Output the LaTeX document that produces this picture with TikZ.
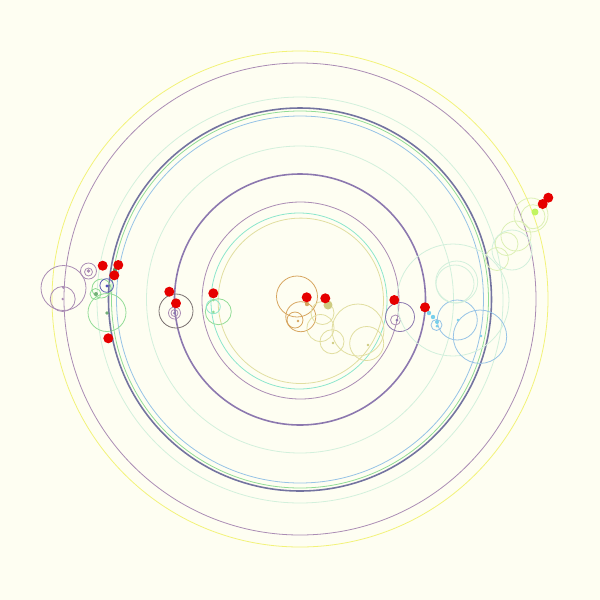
\documentclass[tikz,border=0pt]{standalone}
\usepackage{tikz}

\definecolor{bgpale}{RGB}{254,254,242}
\definecolor{orbyellow}{RGB}{242,242,120}
\definecolor{orbpurple}{RGB}{170,140,180}
\definecolor{orbviolet}{RGB}{140,120,175}
\definecolor{orbdark}{RGB}{115,115,160}
\definecolor{orbblue}{RGB}{150,195,230}
\definecolor{orbgreen}{RGB}{145,220,150}
\definecolor{orbcyan}{RGB}{140,230,205}
\definecolor{orbpale}{RGB}{210,240,220}
\definecolor{orblime}{RGB}{220,240,180}
\definecolor{orborange}{RGB}{215,165,95}
\definecolor{orbsand}{RGB}{225,222,160}
\definecolor{orbgray}{RGB}{120,110,110}
\definecolor{dotred}{RGB}{230,0,0}

\tikzset{
  orbit/.style={line width=0.45pt},
  bigorbit/.style={line width=0.9pt},
  body/.style={fill=dotred,draw=none},
}

\begin{document}
\begin{tikzpicture}[x=0.02cm,y=-0.02cm]
  \fill[bgpale] (0,0) rectangle (600,600);
  \useasboundingbox (0,0) rectangle (600,600);
  % main rings
  \draw[orbit,orbyellow] (300,299) circle (248);
  \draw[orbit,orbpurple] (300,299) circle (236);
  \draw[orbit,orbpale] (300,300) circle (203);
  \draw[bigorbit,orbdark] (300,299.5) circle (191.5);
  \draw[orbit,orbgreen] (300,299.5) circle (188.5);
  \draw[orbit,orbblue] (300,299.5) circle (183.5);
  \draw[orbit,orbpale] (300,299.5) circle (153.5);
  \draw[bigorbit,orbviolet] (300,299.5) circle (125.5);
  \draw[orbit,orbpurple] (300.5,300.5) circle (98.5);
  \draw[orbit,orbcyan] (299,301) circle (88);
  \draw[orbit,orbsand] (300.8,300.8) circle (82.7);
  % left group
  \draw[orbit,orbpurple] (63.5,288) circle (22.5);
  \draw[orbit,orbpurple] (62.7,299) circle (12.5);
  \draw[orbit,orbpurple] (88.5,271) circle (8);
  \draw[orbit,orbpurple] (88.5,272) circle (4);
  \draw[orbit,orbgreen] (107,312.5) circle (19);
  \draw[orbit,orbgreen] (101.5,288.5) circle (9.5);
  \draw[orbit,orbgreen] (95.5,294) circle (5.5);
  \draw[orbit,orbdark!80!blue] (106.7,285.5) circle (6.8);
  \fill[orbpurple] (63.3,287.7) circle (1.3) (62.7,299) circle (1.3) (88.5,271) circle (1.8);
  \fill[orbgreen!80!black] (107,313) circle (1.8) (96,294) circle (2);
  \fill[orbdark!70!blue] (107,286) circle (1.6);
  \fill[orbgreen!70!black] (115,270) circle (2.2);
  % second group
  \draw[orbit,orbgray] (176,311) circle (17);
  \draw[orbit,orbpurple] (174.5,313) circle (6);
  \draw[orbit,orbpurple] (174.5,313) circle (3.5);
  \fill[orbviolet] (174.5,313) circle (1.5);
  \draw[orbit,orbgreen] (218.3,311.7) circle (13);
  \draw[orbit,orbcyan] (213.3,306.7) circle (7);
  \fill[orbgreen] (213.3,300) circle (1.5) (213.3,312) circle (1.5);
  % centre group
  \draw[orbit,orborange] (297,296.5) circle (20.5);
  \draw[orbit,orborange] (300.8,316.7) circle (15);
  \draw[orbit,orborange] (295,320) circle (8);
  \fill[orborange] (307,304) circle (2.2) (298,321) circle (1.3);
  \draw[orbit,orbsand] (358,330) circle (26);
  \draw[orbit,orbsand] (366.7,343.5) circle (17);
  \draw[orbit,orbsand] (332,341.7) circle (12);
  \draw[orbit,orbsand] (320.5,328) circle (13.5);
  \draw[orbit,orbsand] (322.5,313) circle (11.5);
  \fill[orbsand!80!olive] (328,305) circle (4.5);
  \fill[orbsand!80!olive] (333,343) circle (1.3) (368,345) circle (1.3);
  % right group
  \draw[orbit,orbviolet] (400,317) circle (14.5);
  \draw[orbit,orbpurple] (395.5,320) circle (5);
  \fill[orbviolet] (397,320) circle (1.5);
  \draw[orbit,orbpale] (453,300) circle (56);
  \draw[orbit,orbpale] (455,284) circle (19);
  \draw[orbit,orbblue] (457.3,320) circle (20);
  \draw[orbit,orbblue] (480,336.7) circle (26.7);
  \draw[orbit,orbblue] (436.5,325) circle (5.5);
  \fill[orbblue!80!cyan] (429,313) circle (2.2) (433,317) circle (2.2) (437,322) circle (2)
    (437,326) circle (1.5) (458,320) circle (1.3) (481,336) circle (1.3);
  % upper right chain
  \draw[orbit,orblime] (531,215) circle (17);
  \draw[orbit,orblime] (533,216.7) circle (12);
  \draw[orbit,orblime] (516,236) circle (15);
  \draw[orbit,orblime] (506.5,244) circle (11.5);
  \draw[orbit,orblime] (497,259) circle (11.5);
  \draw[orbit,orbpale] (512,250) circle (20);
  \draw[orbit,orbpale] (456.7,282) circle (21);
  \fill[orbyellow!80!green] (535,212) circle (3.5);
  % bodies
  \foreach \px/\py in {102.7/265.7, 118.3/265, 114.3/275.3, 108.3/338.3,
      169.3/291.7, 176/303.3, 213.3/293.3, 306.7/297.3, 325.3/298.3,
      394.3/300, 425/307.3, 542.7/204, 548.3/197.7}
    \fill[body] (\px,\py) circle (5);
\end{tikzpicture}
\end{document}
